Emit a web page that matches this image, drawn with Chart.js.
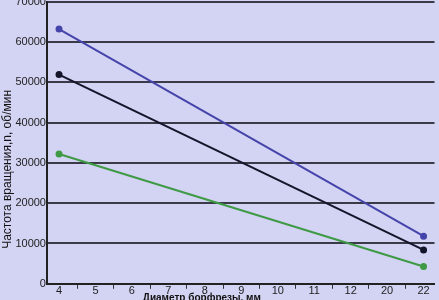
<!DOCTYPE html>
<html>
<head>
<meta charset="utf-8">
<script src="https://cdn.jsdelivr.net/npm/chart.js@4"></script>
<style>
  html, body { margin: 0; padding: 0; background: #d3d3f3; overflow: hidden; }
  #wrap { position: relative; width: 439px; height: 310px; margin-top: -6px; }
</style>
</head>
<body>
<div id="wrap"><canvas id="chart"></canvas></div>
<script>
// diameters (evenly spaced categories), mm
const diameters = ['4', '5', '6', '7', '8', '9', '10', '11', '12', '20', '22'];

// rotation speed, rpm - only the end points are given
const blueSeries  = [63200, null, null, null, null, null, null, null, null, null, 11800];
const blackSeries = [51900, null, null, null, null, null, null, null, null, null, 8400];
const greenSeries = [32200, null, null, null, null, null, null, null, null, null, 4300];

const yTicks = [0, 10000, 20000, 30000, 40000, 50000, 60000, 70000];

// categories are placed by their index on a linear axis
const toPoints = (arr) => arr.map((v, i) => ({ x: i, y: v }));

const makeSet = (data, color) => ({
  data: toPoints(data),
  borderColor: color,
  backgroundColor: color,
  borderWidth: 2,
  pointRadius: 2.5,
  pointHoverRadius: 2.5,
  spanGaps: true,
  tension: 0
});

const ctx = document.getElementById('chart').getContext('2d');
new Chart(ctx, {
  type: 'line',
  data: {
    datasets: [
      makeSet(blueSeries, '#4444aa'),
      makeSet(blackSeries, '#14142a'),
      makeSet(greenSeries, '#3f9a45')
    ]
  },
  options: {
    responsive: true,
    maintainAspectRatio: false,
    animation: false,
    layout: { padding: 0 },
    plugins: { legend: { display: false }, tooltip: { enabled: false } },
    scales: {
      x: {
        type: 'linear',
        min: -0.33,
        max: 10.3,
        afterBuildTicks: (axis) => { axis.ticks = diameters.map((d, i) => ({ value: i })); },
        border: { color: '#222', width: 2 },
        grid: { offset: true, drawOnChartArea: false, tickLength: 5, color: '#333' },
        ticks: {
          color: '#222',
          font: { family: 'Liberation Sans', size: 11 },
          padding: -4,
          callback: (v) => diameters[v]
        },
        title: {
          display: true,
          text: 'Диаметр борфрезы, мм' + '\u00a0'.repeat(28),
          color: '#111',
          font: { family: 'Liberation Sans', size: 10, weight: 'bold' },
          padding: { top: -2, bottom: 0 }
        }
      },
      y: {
        min: 0,
        max: 70000,
        afterBuildTicks: (axis) => { axis.ticks = yTicks.map(v => ({ value: v })); },
        border: { color: '#222', width: 2 },
        grid: { color: '#3a3a48', lineWidth: 2, drawTicks: false },
        ticks: {
          color: '#222',
          font: { family: 'Liberation Sans', size: 11 },
          padding: 1,
          callback: (v) => String(v)
        },
        title: {
          display: true,
          // trailing spaces push the visible caption down like in the original
          text: 'Частота вращения,n, об/мин' + '\u00a0'.repeat(16),
          color: '#111',
          font: { family: 'Liberation Sans', size: 12 },
          padding: { top: 0, bottom: 0 }
        }
      }
    }
  }
});
</script>
</body>
</html>
